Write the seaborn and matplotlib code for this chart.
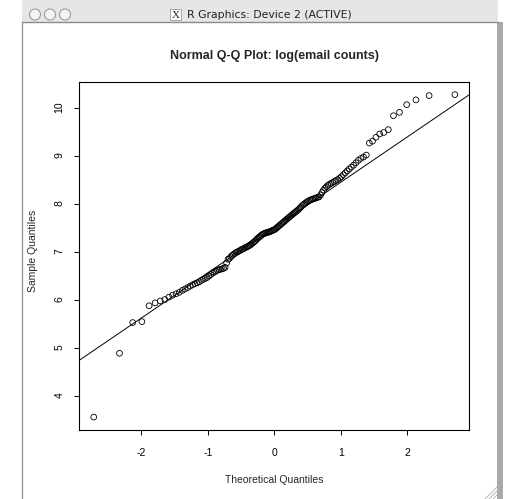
import statistics
import numpy as np
import pandas as pd
import matplotlib
matplotlib.use("Agg")
import matplotlib.pyplot as plt
import seaborn as sns
from matplotlib.patches import Rectangle, Circle

# -----------------------------------
# Data: sorted log(email counts)
# -----------------------------------
log_counts = [
    3.55, 4.88, 5.52, 5.54, 5.87, 5.93, 5.97, 6.00, 6.05, 6.09,
    6.12, 6.15, 6.19, 6.22, 6.25, 6.28, 6.31, 6.33, 6.35, 6.37,
    6.40, 6.42, 6.44, 6.46, 6.49, 6.52, 6.55, 6.57, 6.59, 6.61,
    6.62, 6.63, 6.64, 6.65, 6.67, 6.76, 6.84, 6.855, 6.89, 6.92,
    6.94, 6.96, 6.98, 6.99, 7.01, 7.02, 7.04, 7.05, 7.06, 7.08,
    7.09, 7.10, 7.12, 7.13, 7.15, 7.17, 7.19, 7.21, 7.23, 7.26,
    7.28, 7.30, 7.32, 7.34, 7.36, 7.37, 7.38, 7.39, 7.40, 7.40,
    7.41, 7.42, 7.43, 7.44, 7.45, 7.46, 7.48, 7.50, 7.52, 7.54,
    7.56, 7.58, 7.60, 7.62, 7.64, 7.66, 7.68, 7.70, 7.72, 7.74,
    7.76, 7.78, 7.80, 7.82, 7.84, 7.86, 7.88, 7.91, 7.93, 7.96,
    7.98, 8.00, 8.02, 8.04, 8.05, 8.07, 8.08, 8.09, 8.10, 8.11,
    8.12, 8.13, 8.14, 8.18, 8.23, 8.28, 8.32, 8.35, 8.38, 8.40,
    8.42, 8.44, 8.46, 8.48, 8.50, 8.53, 8.56, 8.60, 8.64, 8.68,
    8.72, 8.76, 8.80, 8.85, 8.90, 8.94, 8.97, 9.01, 9.26, 9.30,
    9.38, 9.45, 9.48, 9.54, 9.83, 9.90, 10.06, 10.16, 10.25, 10.27,
]

x_ticks = [-2, -1, 0, 1, 2]
y_ticks = [4, 5, 6, 7, 8, 9, 10]

TITLE = "Normal Q-Q Plot: log(email counts)"
XLABEL = "Theoretical Quantiles"
YLABEL = "Sample Quantiles"
WINDOW_TITLE = "R Graphics: Device 2 (ACTIVE)"

# -----------------------------------
# Q-Q computations (same as R's qqnorm / qqline)
# -----------------------------------
norm = statistics.NormalDist()
n = len(log_counts)
a = 0.5 if n > 10 else 3 / 8
probs = [(i + 1 - a) / (n + 1 - 2 * a) for i in range(n)]
theo = [norm.inv_cdf(p) for p in probs]
df = pd.DataFrame({"theoretical": theo, "sample": sorted(log_counts)})

y_q = np.quantile(df["sample"], [0.25, 0.75])
x_q = np.array([norm.inv_cdf(0.25), norm.inv_cdf(0.75)])
slope = (y_q[1] - y_q[0]) / (x_q[1] - x_q[0])
intercept = y_q[0] - slope * x_q[0]

def r_range(v):
    lo, hi = min(v), max(v)
    pad = 0.04 * (hi - lo)
    return lo - pad, hi + pad

# -----------------------------------
# Figure
# -----------------------------------
sns.set_style("ticks")
plt.rcParams["font.family"] = ["Liberation Sans", "DejaVu Sans"]

W, H = 506, 499
fig = plt.figure(figsize=(W / 100, H / 100), dpi=100)
fig.patch.set_facecolor("white")

# window chrome (drawn in pixel coords)
bg = fig.add_axes([0, 0, 1, 1], zorder=-1)
bg.set_xlim(0, W)
bg.set_ylim(H, 0)
bg.axis("off")
bg.add_patch(Rectangle((22, 0), 476, 22, facecolor="#e6e6e6", edgecolor="none"))
bg.plot([22, 498], [22, 22], color="#8c8c8c", lw=1)
bg.plot([22.5, 22.5], [22, H], color="#9a9a9a", lw=1)
bg.add_patch(Rectangle((497, 22), 6, H - 22, facecolor="#a9a9a9", edgecolor="none"))
for cx in [35, 50, 65]:
    bg.add_patch(Circle((cx, 14.5), 5.5, facecolor="#f4f4f4", edgecolor="#9c9c9c", lw=0.8))
bg.add_patch(Rectangle((170, 9), 11, 11, facecolor="white", edgecolor="#9a9a9a", lw=0.6))
bg.text(175.5, 15, "X", family="Liberation Serif", fontsize=8, ha="center", va="center")
bg.text(187, 15, WINDOW_TITLE, family="DejaVu Sans", fontsize=7.8, ha="left", va="center",
        color="#222222")
for k in [4, 8, 12]:
    bg.plot([497 - k, 497], [H, H - k], color="#b8b8b8", lw=0.7)

# plot region
left, right, top, bottom = 79.3, 469.3, 81.7, 430.0
ax = fig.add_axes([left / W, 1 - bottom / H, (right - left) / W, (bottom - top) / H])
ax.set_facecolor("white")

sns.scatterplot(data=df, x="theoretical", y="sample", ax=ax, marker="o", s=17,
                facecolors="none", edgecolor="black", linewidth=0.6, legend=False)
ax.axline((0, intercept), slope=slope, color="black", lw=0.7)

ax.set_xlim(*r_range(df["theoretical"]))
ax.set_ylim(*r_range(df["sample"]))
ax.set_xticks(x_ticks)
ax.set_yticks(y_ticks)
ax.set_xticklabels([str(t) for t in x_ticks])
ax.set_yticklabels([str(t) for t in y_ticks], rotation=90, va="center")

for side in ["left", "right", "top", "bottom"]:
    ax.spines[side].set_visible(True)
    ax.spines[side].set_color("black")
    ax.spines[side].set_linewidth(0.8)
ax.tick_params(axis="both", direction="out", length=3.6, width=0.7, colors="black",
               labelsize=7.5)
ax.tick_params(axis="x", pad=9.5)
ax.tick_params(axis="y", pad=7)

ax.set_xlabel(XLABEL, fontsize=7.5)
ax.set_ylabel(YLABEL, fontsize=7.5)
ax.xaxis.set_label_coords(0.5, -0.128)
ax.yaxis.set_label_coords(-0.105, 0.515)

fig.text(275 / W, 1 - 59 / H, TITLE, ha="center", va="baseline",
         fontsize=9, fontweight="bold")

plt.savefig("out.png", dpi=100)
plt.close()
